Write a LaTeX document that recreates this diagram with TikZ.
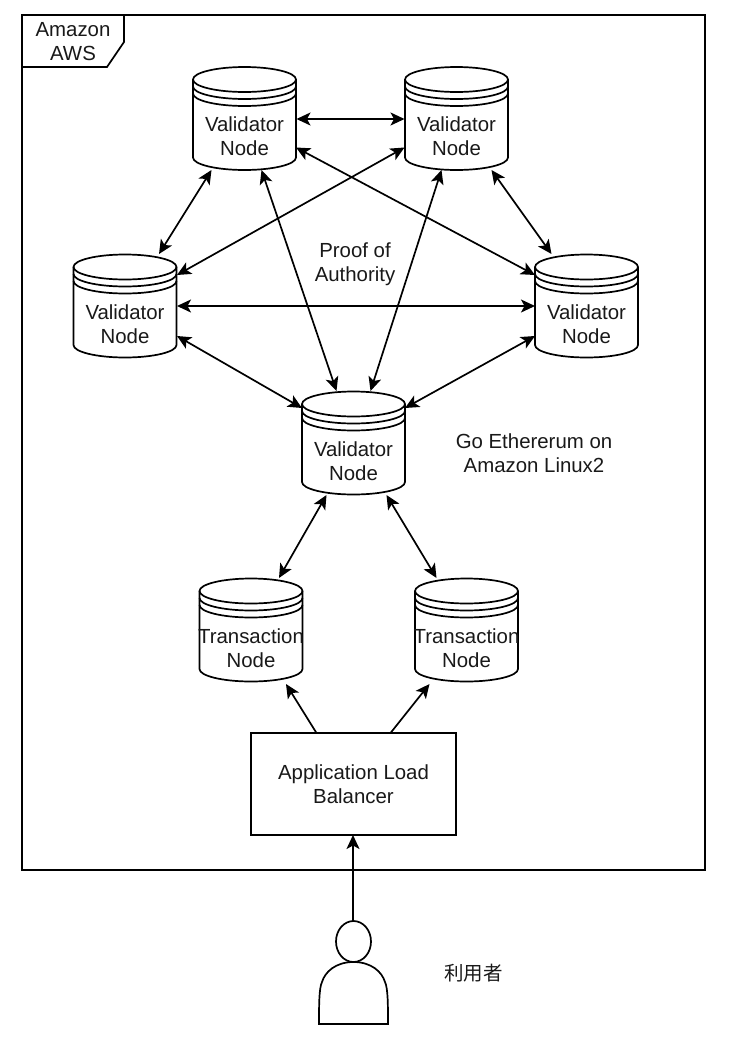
\documentclass[tikz,border=0pt]{standalone}
\usepackage{fontspec}
\setmainfont{Liberation Sans}
\newfontfamily\cjkfont{Noto Sans CJK JP}
\usetikzlibrary{calc,arrows.meta}
\tikzset{
  line/.style={draw=black,line width=1.7pt},
  tip/.tip={Stealth[length=14pt,width=13pt,inset=3.5pt]},
  arr/.style={line,-tip},
  barr/.style={line,tip-tip},
  cylbox/.style={minimum width=103pt,minimum height=102pt,inner sep=0pt,outer sep=0pt},
  lab/.style={font=\fontsize{20.4pt}{24pt}\selectfont,align=center,text=black!90,inner sep=0pt},
  cyllab/.style={lab,yshift=-18pt},
}
\newcommand{\cylnode}[4]{%
  \begin{scope}[shift={(#2,#3)}]
    \draw[line,fill=white] (-51.5,-39) arc[start angle=180,end angle=360,x radius=51.5,y radius=12.5]
      -- (51.5,39) arc[start angle=0,end angle=180,x radius=51.5,y radius=12.5] -- cycle;
    \draw[line] (-51.5,-39) arc[start angle=180,end angle=0,x radius=51.5,y radius=12.5];
    \draw[line] (-51.5,-32) arc[start angle=180,end angle=0,x radius=51.5,y radius=12.5];
    \draw[line] (-51.5,-25) arc[start angle=180,end angle=0,x radius=51.5,y radius=12.5];
  \end{scope}
  \node[cylbox,label={[cyllab]center:#4}] (#1) at (#2,#3) {};
}
\begin{document}
\begin{tikzpicture}[x=1pt,y=-1pt]
\useasboundingbox (0,0) rectangle (734,1042);
\fill[white] (0,0) rectangle (734,1042);
\node[line,minimum width=683pt,minimum height=855pt,inner sep=0pt,outer sep=0pt] (frame) at (363.5,442.5) {};
\draw[line] (frame.north west) ++(102,0) -- ++(0,27) -- ++(-17,25) -- ++(-85,0);
\node[lab] (tab) at (73,42) {Amazon\\AWS};

\cylnode{v1}{244.5}{118.5}{Validator\\Node}
\cylnode{v2}{456.5}{118.5}{Validator\\Node}
\cylnode{v3}{125}{306}{Validator\\Node}
\cylnode{v4}{586.5}{306}{Validator\\Node}
\cylnode{v5}{353.5}{443}{Validator\\Node}
\cylnode{t1}{251}{630}{Transaction\\Node}
\cylnode{t2}{466.5}{630}{Transaction\\Node}

\node[line,minimum width=205pt,minimum height=102pt,inner sep=0pt,outer sep=0pt,lab] (alb) at (353.5,784) {Application Load\\Balancer};

\node[lab] (poa) at (355,264) {Proof of\\Authority};
\node[lab] (geth) at (534,453) {Go Ethererum on\\Amazon Linux2};

\node[minimum width=69pt,minimum height=103pt,inner sep=0pt,outer sep=0pt] (user) at (353.5,972.5) {};
\draw[line,line join=miter] (user.south west) .. controls ($(user.south west)+(0,-18)$) and ($(user.south west)+(0,-36)$) .. ($(user.south west)+(3,-42)$)
  .. controls ($(user.south west)+(6,-52)$) and ($(user.center)+(-18,-10.5)$) .. ($(user.center)+(0,-10.5)$)
  .. controls ($(user.center)+(18,-10.5)$) and ($(user.south east)+(-6,-52)$) .. ($(user.south east)+(-3,-42)$)
  .. controls ($(user.south east)+(0,-36)$) and ($(user.south east)+(0,-18)$) .. (user.south east) -- cycle;
\draw[line] ($(user.north)+(0,20.5)$) ellipse[x radius=17.5,y radius=20.5];
\node[lab,font=\cjkfont\fontsize{19.5pt}{24pt}\selectfont] (ulabel) at (473.5,973) {利用者};

\draw[barr] ($(v1)+(52,.5)$) -- ($(v2)+(-52,.5)$);
\draw[barr] ($(v1)+(-33,51.5)$) -- ($(v3)+(34,-52)$);
\draw[barr] ($(v2)+(35,51.5)$) -- ($(v4)+(-35,-52)$);
\draw[barr] ($(v1)+(51.5,29)$) -- ($(v4)+(-51.5,-31)$);
\draw[barr] ($(v2)+(-52,29)$) -- ($(v3)+(52,-31)$);
\draw[barr] ($(v3)+(52,0)$) -- ($(v4)+(-51.5,0)$);
\draw[barr] ($(v1)+(17,51.5)$) -- ($(v5)+(-17,-52)$);
\draw[barr] ($(v2)+(-15,51.5)$) -- ($(v5)+(17,-52)$);
\draw[barr] ($(v3)+(52,30)$) -- ($(v5)+(-51.5,-35)$);
\draw[barr] ($(v4)+(-51.5,30)$) -- ($(v5)+(51.5,-35)$);
\draw[barr] ($(v5)+(-27,52)$) -- ($(t1)+(28,-52)$);
\draw[barr] ($(v5)+(33,52)$) -- ($(t2)+(-30,-52)$);
\draw[arr] ($(alb.north)+(-37,0)$) -- ($(t1)+(35,54)$);
\draw[arr] ($(alb.north)+(37,0)$) -- ($(t2)+(-37,54)$);
\draw[arr] ($(user.north)+(-.5,0)$) -- ($(alb.south)+(-.5,0)$);
\end{tikzpicture}
\end{document}
